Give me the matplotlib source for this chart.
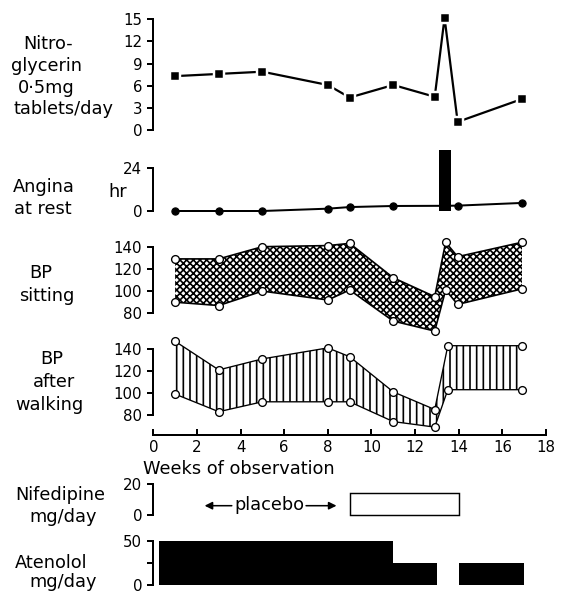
import matplotlib
matplotlib.use("Agg")
import matplotlib.pyplot as plt

# ---- data ----
nitro_weeks = [1, 3, 5, 8, 9, 11, 12.9, 13.35, 13.95, 16.9]
nitro_tabs = [7.3, 7.6, 7.9, 6.1, 4.4, 6.1, 4.5, 15.2, 1.1, 4.2]

angina_weeks = [1, 3, 5, 8, 9, 11, 13.38, 13.95, 16.9]
angina_hr = [0, 0, 0, 1.3, 2.2, 2.8, 2.9, 3.0, 4.5]
angina_bar_week = 13.38
angina_bar_hr = 34

sit_weeks = [1, 3, 5, 8, 9, 11, 12.9, 13.4, 13.95, 16.9]
sit_upper = [129, 129, 140, 141, 143, 112, 95, 144, 131, 144]
sit_lower = [90, 87, 100, 92, 101, 73, 64, 101, 88, 102]

walk_weeks = [1, 3, 5, 8, 9, 11, 12.9, 13.5, 16.9]
walk_upper = [147, 121, 131, 141, 133, 101, 85, 143, 143]
walk_lower = [99, 83, 92, 92, 92, 74, 69, 103, 103]

nif_start = [9]
nif_end = [14]
nif_dose = [14]

aten_start = [0.25, 11, 14]
aten_end = [11, 13, 17]
aten_dose = [50, 25, 25]

week_ticks = list(range(0, 19, 2))

# ---- layout (pixel based) ----
W, H = 561, 595
DPI = 80
X0, X18 = 153.3, 546.0
LABEL = 16
TICK = 13.5
LW = 1.8

plt.rcParams["font.family"] = ["DejaVu Sans"]
plt.rcParams["hatch.linewidth"] = 1.5

fig = plt.figure(figsize=(W / DPI, H / DPI), dpi=DPI)


def panel(ylo, yhi, px_lo, px_hi):
    ax = fig.add_axes([X0 / W, 1 - px_lo / H, (X18 - X0) / W, (px_lo - px_hi) / H])
    ax.set_xlim(0, 18)
    ax.set_ylim(ylo, yhi)
    ax.patch.set_alpha(0)
    for s in ("top", "right", "bottom"):
        ax.spines[s].set_visible(False)
    ax.spines["left"].set_linewidth(LW)
    ax.spines["left"].set_bounds(ylo, yhi)
    ax.set_xticks([])
    ax.tick_params(axis="y", direction="out", length=5, width=LW, labelsize=TICK, pad=5)
    return ax


def label(lines, xs, ys):
    for t, x, y in zip(lines, xs, ys):
        fig.text(x / W, 1 - y / H, t, ha="center", va="center", fontsize=LABEL)


# nitroglycerin
ax = panel(0, 15, 130, 19.3)
ax.set_yticks(range(0, 16, 3))
ax.plot(nitro_weeks, nitro_tabs, color="black", lw=2.0, marker="s", ms=8.5,
        mfc="black", mec="white", mew=2.2, clip_on=False, zorder=3)
label(["Nitro-", "glycerin", "0·5mg", "tablets/day"], [48, 46, 46, 64], [44, 66, 88, 109])

# angina at rest
ax = panel(0, 24, 211, 168)
ax.set_yticks([0, 24])
ax.plot(angina_weeks, angina_hr, color="black", lw=1.8, marker="o", ms=6.5,
        markevery=[0, 1, 2, 3, 4, 5, 7, 8], clip_on=False, zorder=2)
ax.bar([angina_bar_week], [angina_bar_hr], width=0.55, color="black", clip_on=False, zorder=3)
ax.text(-1.65, 10.5, "hr", ha="center", va="center", fontsize=LABEL)
label(["Angina", "at rest"], [44, 43], [187, 209])

# BP sitting
ax = panel(80, 140, 313.3, 246.7)
ax.set_yticks([80, 100, 120, 140])
ax.fill_between(sit_weeks, sit_lower, sit_upper, facecolor="white", edgecolor="black",
                hatch="xxxx", linewidth=0, clip_on=False)
for vals in (sit_upper, sit_lower):
    ax.plot(sit_weeks, vals, color="black", lw=1.5, marker="o", ms=7, mfc="white",
            mec="black", mew=1.2, clip_on=False, zorder=3)
label(["BP", "sitting"], [41, 47], [273, 296])

# BP after walking (carries the week axis)
ax = panel(62, 140, 434.8, 349)
ax.spines["left"].set_bounds(80, 140)
ax.set_yticks([80, 100, 120, 140])
ax.fill_between(walk_weeks, walk_lower, walk_upper, facecolor="white", edgecolor="black",
                hatch="||", linewidth=0, clip_on=False)
for vals in (walk_upper, walk_lower):
    ax.plot(walk_weeks, vals, color="black", lw=1.2, marker="o", ms=7, mfc="white",
            mec="black", mew=1.2, clip_on=False, zorder=3)
ax.spines["bottom"].set_visible(True)
ax.spines["bottom"].set_linewidth(LW)
ax.spines["bottom"].set_bounds(0, 18)
ax.set_xticks(week_ticks)
ax.tick_params(axis="x", direction="in", length=5, width=LW, labelsize=TICK, pad=5)
label(["BP", "after", "walking"], [52, 54, 49], [359, 382, 405])
fig.text(143 / W, 1 - 469 / H, "Weeks of observation", ha="left", va="center", fontsize=LABEL)

# nifedipine
ax = panel(0, 20, 515, 484)
ax.set_yticks([0, 20])
ax.bar(nif_start, nif_dose, width=[e - s for s, e in zip(nif_start, nif_end)], align="edge",
       facecolor="white", edgecolor="black", linewidth=1.3, clip_on=False)
ax.annotate("", xy=(2.25, 6), xytext=(3.7, 6),
            arrowprops=dict(arrowstyle="-|>", color="black", lw=1.4, mutation_scale=14))
ax.annotate("", xy=(8.5, 6), xytext=(6.9, 6),
            arrowprops=dict(arrowstyle="-|>", color="black", lw=1.4, mutation_scale=14))
ax.text(5.3, 6.5, "placebo", ha="center", va="center", fontsize=LABEL)
label(["Nifedipine", "mg/day"], [60, 63], [495, 517])

# atenolol
ax = panel(0, 50, 585, 541)
ax.set_yticks([0, 25, 50])
ax.set_yticklabels(["0", "", "50"])
ax.bar(aten_start, aten_dose, width=[e - s for s, e in zip(aten_start, aten_end)], align="edge",
       color="black", linewidth=0)
label(["Atenolol", "mg/day"], [51, 63], [563, 582])

fig.savefig("out.png", dpi=DPI)
